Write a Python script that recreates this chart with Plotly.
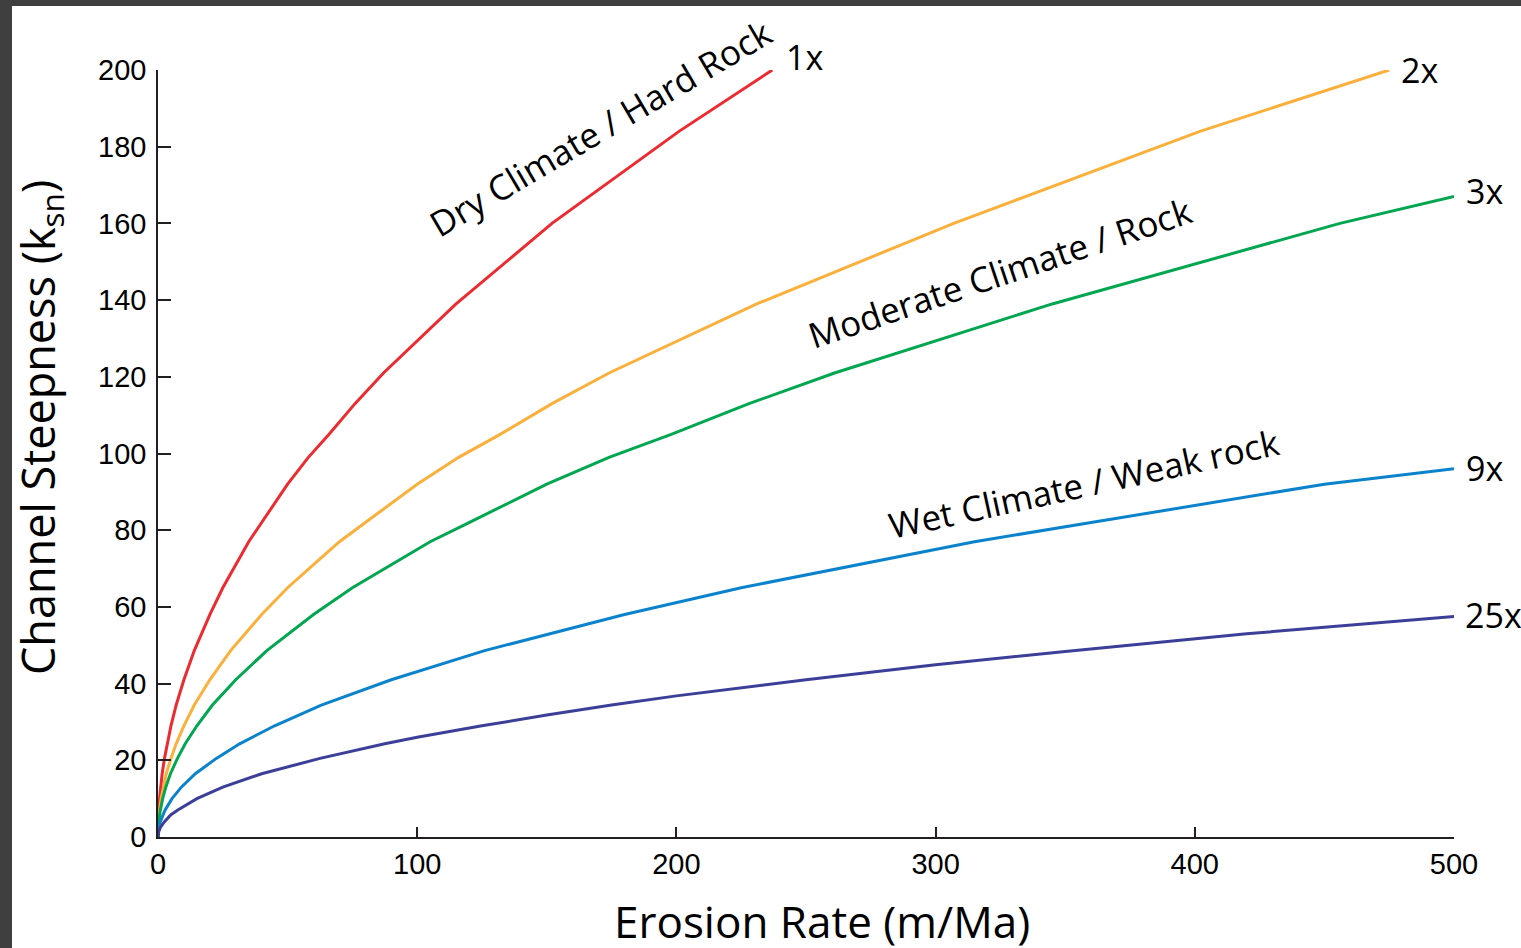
import plotly.graph_objects as go

# ---- data ----
erosion_1x = [0, 0.1, 0.3, 0.6, 1, 1.6, 2.5, 3.5, 5, 7, 10, 14, 20, 25, 30, 35, 40, 50, 58,
              66, 76, 87, 115, 152, 201, 237]
ksn_1x = [0, 4, 7, 10, 13, 16.5, 20.5, 24.3, 29, 34.4, 41, 48.6, 58, 65, 71, 77, 82, 92, 99,
          105, 113, 121, 139, 160, 184, 200]

erosion_2x = [0, 0.2, 0.6, 1.2, 2, 3.2, 5, 7, 10, 14, 20, 28, 40, 50, 60, 70, 80, 100, 116,
              132, 152, 174, 231, 307, 402, 475]
ksn_2x = [0, 4, 7, 10, 13, 16.5, 20.5, 24.3, 29, 34.4, 41, 48.6, 58, 65, 71, 77, 82, 92, 99,
          105, 113, 121, 139, 160, 184, 200]

erosion_3x = [0, 0.3, 0.9, 1.8, 3, 4.8, 7.5, 10.5, 15, 21, 30, 42, 60, 75, 90, 105, 120, 150,
              174, 198, 228, 261, 345, 456, 500]
ksn_3x = [0, 4, 7, 10, 13, 16.5, 20.5, 24.3, 29, 34.4, 41, 48.6, 58, 65, 71, 77, 82, 92,
          99, 105, 113, 121, 139, 160, 167]

erosion_9x = [0, 0.1, 0.3, 0.9, 2.7, 5.4, 9, 14.4, 22.5, 31.5, 45, 63, 90, 126, 180, 225,
              270, 315, 360, 450, 500]
ksn_9x = [0, 1.5, 2.3, 4, 7, 10, 13, 16.5, 20.5, 24.3, 29, 34.4, 41, 48.6, 58, 65,
          71, 77, 82, 92, 96]

erosion_25x = [0, 0.1, 0.25, 1, 2.5, 5, 7.5, 15, 25, 40, 62.5, 87.5, 100, 125, 150, 175,
               200, 250, 300, 350, 420, 500]
ksn_25x = [0, 0.8, 1.3, 2.6, 4, 5.8, 7, 10, 13, 16.5, 20.5, 24.3, 26, 29, 31.8, 34.4,
           36.8, 41, 44.9, 48.4, 53, 57.5]

series_labels = ["1x", "2x", "3x", "9x", "25x"]
series_colors = ["#ed2a2f", "#fbb03b", "#00a650", "#0a83cc", "#3b3f98"]

x_ticks = [0, 100, 200, 300, 400, 500]
y_ticks = [0, 20, 40, 60, 80, 100, 120, 140, 160, 180, 200]

W, H = 1521, 948
L, R, T, B = 158, 67, 70, 111

fig = go.Figure()
all_x = [erosion_1x, erosion_2x, erosion_3x, erosion_9x, erosion_25x]
all_y = [ksn_1x, ksn_2x, ksn_3x, ksn_9x, ksn_25x]
for xs, ys, lab, col in zip(all_x, all_y, series_labels, series_colors):
    fig.add_trace(go.Scatter(x=xs, y=ys, mode="lines", name=lab,
                             line=dict(color=col, width=3), showlegend=False,
                             hoverinfo="skip"))

ann_font = dict(family="Open Sans", size=35, color="black")
# end labels
end_offsets = {"1x": (12, 13), "2x": (10, 0), "3x": (10, 6), "9x": (10, 1), "25x": (9, 1)}
annotations = []
for xs, ys, lab in zip(all_x, all_y, series_labels):
    dx, dy = end_offsets[lab]
    annotations.append(dict(x=xs[-1], y=ys[-1], xref="x", yref="y", text=lab,
                            showarrow=False, xanchor="left", yanchor="middle",
                            xshift=dx, yshift=dy, font=dict(family="Open Sans", size=34, color="black")))

def px_to_paper(px, py):
    return (px - L) / (W - L - R), (H - B - py) / (H - T - B)

for text, (cx, cy), ang in [
    ("Dry Climate / Hard Rock", (601, 128), -30.5),
    ("Moderate Climate / Rock", (1000, 272), -18.5),
    ("Wet Climate / Weak rock", (1084, 484), -12.3),
]:
    ax, ay = px_to_paper(cx, cy)
    annotations.append(dict(x=ax, y=ay, xref="paper", yref="paper", text=text,
                            showarrow=False, textangle=ang, xanchor="center",
                            yanchor="middle", font=ann_font))

# axis titles
tx, ty = px_to_paper(822, 921)
annotations.append(dict(x=tx, y=ty, xref="paper", yref="paper", text="Erosion Rate (m/Ma)",
                        showarrow=False, xanchor="center", yanchor="middle",
                        font=dict(family="Open Sans", size=44, color="black")))
tx, ty = px_to_paper(40, 428)
annotations.append(dict(x=tx, y=ty, xref="paper", yref="paper",
                        text="Channel Steepness (k<sub>sn</sub>)", textangle=-90,
                        showarrow=False, xanchor="center", yanchor="middle",
                        font=dict(family="Open Sans", size=45, color="black")))

# white canvas over dark frame
x0, y1 = px_to_paper(12, 6)
x1, y0 = px_to_paper(1530, 960)
shapes = [dict(type="rect", xref="paper", yref="paper", x0=x0, x1=x1, y0=y0, y1=y1,
               fillcolor="white", line=dict(width=0), layer="below")]

axis_common = dict(showline=True, linecolor="#231f20", linewidth=1.5,
                   ticks="inside", tickwidth=1.5, tickcolor="#231f20",
                   showgrid=False, zeroline=False,
                   tickfont=dict(family="Liberation Sans", size=29, color="black"))

fig.update_layout(
    width=W, height=H,
    margin=dict(l=L, r=R, t=T, b=B, pad=0),
    paper_bgcolor="#3f3f3f", plot_bgcolor="rgba(0,0,0,0)",
    xaxis=dict(range=[0, 500], tickvals=x_ticks, ticklen=10, **axis_common),
    yaxis=dict(range=[0, 200], tickvals=y_ticks, ticklen=13, ticklabelstandoff=4, **axis_common),
    annotations=annotations, shapes=shapes,
)

fig.write_html("out.html")
